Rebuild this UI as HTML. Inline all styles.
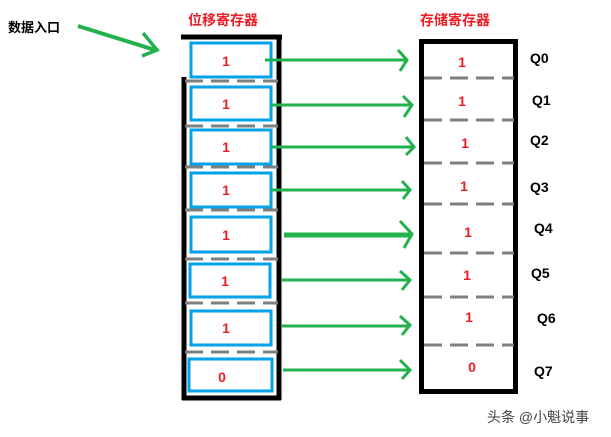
<!DOCTYPE html>
<html><head><meta charset="utf-8"><style>
html,body{margin:0;padding:0;background:#fff;width:611px;height:437px;overflow:hidden}
text{font-family:"Liberation Sans","Noto Sans CJK SC",sans-serif;font-weight:bold}
</style></head><body>
<svg width="611" height="437" xmlns="http://www.w3.org/2000/svg">
<text x="8" y="32" font-size="13" fill="#000">数据入口</text>
<path d="M78 26 L155 50" stroke="#22b14c" stroke-width="4" fill="none"/>
<path d="M143 33 L157 50 L142 56" stroke="#22b14c" stroke-width="3.5" fill="none"/>
<text x="188" y="25" font-size="14" fill="#ed1c24">位移寄存器</text>
<text x="420" y="25" font-size="14" fill="#ed1c24">存储寄存器</text>
<!-- left frame -->
<line x1="181" y1="37" x2="282" y2="37" stroke="#000" stroke-width="5"/>
<line x1="184" y1="77" x2="184" y2="400" stroke="#000" stroke-width="5"/>
<line x1="279" y1="37" x2="279" y2="400" stroke="#000" stroke-width="5"/>
<line x1="182" y1="398" x2="281" y2="398" stroke="#000" stroke-width="5"/>
<g stroke="#7f7f7f" stroke-width="3" stroke-dasharray="18,8">
<line x1="185" y1="81" x2="278" y2="81"/>
<line x1="185" y1="126" x2="278" y2="126"/>
<line x1="185" y1="167" x2="278" y2="167"/>
<line x1="185" y1="210" x2="278" y2="210"/>
<line x1="185" y1="259" x2="278" y2="259"/>
<line x1="185" y1="303" x2="278" y2="303"/>
<line x1="185" y1="352" x2="278" y2="352"/>
</g>
<g fill="none" stroke="#00a2e8" stroke-width="3">
<rect x="191" y="43" width="80" height="34"/>
<rect x="191" y="87" width="80" height="33"/>
<rect x="191" y="130" width="80" height="34"/>
<rect x="191" y="173" width="80" height="34"/>
<rect x="191" y="217" width="80" height="35"/>
<rect x="190" y="264" width="80" height="33"/>
<rect x="191" y="311" width="80" height="34"/>
<rect x="189" y="359" width="83" height="32"/>
</g>
<g font-size="14" fill="#ed1c24" text-anchor="middle">
<text x="226" y="66">1</text><text x="226" y="109">1</text><text x="226" y="152">1</text>
<text x="226" y="195">1</text><text x="226" y="240">1</text><text x="225" y="286">1</text>
<text x="226" y="333">1</text><text x="222" y="382">0</text>
</g>
<!-- arrows -->
<g stroke="#22b14c" stroke-width="3" fill="none">
<line x1="265" y1="60" x2="406" y2="60"/><path d="M398 50 L407 60 L400 71"/>
<line x1="271" y1="105" x2="412" y2="105"/><path d="M403 96 L412 105 L404 117"/>
<line x1="271" y1="147" x2="414" y2="147"/><path d="M406 137 L414 147 L406 155"/>
<line x1="271" y1="190" x2="410" y2="190"/><path d="M402 181 L410 190 L403 199"/>
<line x1="284" y1="235" x2="412" y2="235" stroke-width="5"/><path d="M400 221 L412 234 L404 248"/>
<line x1="282" y1="280" x2="410" y2="280"/><path d="M400 271 L410 280 L402 290"/>
<line x1="282" y1="326" x2="410" y2="326"/><path d="M400 316 L410 325 L402 335"/>
<line x1="283" y1="370" x2="410" y2="370"/><path d="M400 360 L410 370 L402 379"/>
</g>
<!-- right frame -->
<rect x="421.5" y="41.5" width="94" height="350" fill="none" stroke="#000" stroke-width="5"/>
<g stroke="#7f7f7f" stroke-width="3" stroke-dasharray="18,8">
<line x1="424" y1="78" x2="514" y2="78"/>
<line x1="424" y1="120" x2="514" y2="120"/>
<line x1="424" y1="163" x2="514" y2="163"/>
<line x1="424" y1="204" x2="514" y2="204"/>
<line x1="424" y1="253" x2="514" y2="253"/>
<line x1="424" y1="297" x2="514" y2="297"/>
<line x1="424" y1="345" x2="514" y2="345"/>
</g>
<g font-size="14" fill="#ed1c24" text-anchor="middle">
<text x="462" y="67">1</text><text x="462" y="106">1</text><text x="465" y="148">1</text>
<text x="464" y="191">1</text><text x="468" y="237">1</text><text x="467" y="280">1</text>
<text x="469" y="322">1</text><text x="472" y="372">0</text>
</g>
<g font-size="14" fill="#000">
<text x="530" y="63">Q0</text><text x="532" y="105">Q1</text><text x="530" y="145">Q2</text>
<text x="530" y="192">Q3</text><text x="534" y="233">Q4</text><text x="531" y="278">Q5</text>
<text x="537" y="323">Q6</text><text x="534" y="376">Q7</text>
</g>
<text x="487" y="422" font-size="14" font-weight="normal" fill="#444" style="font-weight:normal">头条 @小魁说事</text>
</svg>
</body></html>
